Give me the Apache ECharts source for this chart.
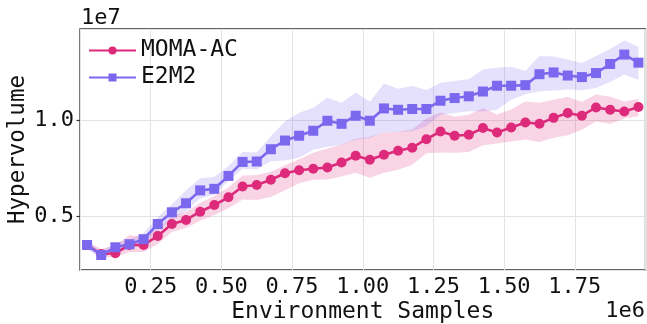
<!DOCTYPE html>
<html>
<head>
<meta charset="utf-8">
<script src="https://cdn.jsdelivr.net/npm/echarts@6/dist/echarts.min.js"></script>
<style>
  html, body { margin: 0; padding: 0; background: #fff; }
  #chart { width: 647px; height: 324px; }
</style>
</head>
<body>
<div id="chart"></div>
<script>
// x in units of 1e6 samples, y in units of 1e7 hypervolume
const samples = [0.025, 0.075, 0.125, 0.175, 0.225, 0.275, 0.325, 0.375, 0.425, 0.475,
  0.525, 0.575, 0.625, 0.675, 0.725, 0.775, 0.825, 0.875, 0.925, 0.975,
  1.025, 1.075, 1.125, 1.175, 1.225, 1.275, 1.325, 1.375, 1.425, 1.475,
  1.525, 1.575, 1.625, 1.675, 1.725, 1.775, 1.825, 1.875, 1.925, 1.975];

const momaMean = [0.349, 0.302, 0.306, 0.349, 0.349, 0.396, 0.458, 0.479, 0.522, 0.557,
  0.597, 0.653, 0.661, 0.688, 0.722, 0.738, 0.745, 0.752, 0.778, 0.813,
  0.792, 0.818, 0.839, 0.855, 0.899, 0.939, 0.917, 0.922, 0.957, 0.934,
  0.960, 0.986, 0.979, 1.010, 1.035, 1.021, 1.064, 1.052, 1.043, 1.066];
const momaHigh = [0.365, 0.328, 0.348, 0.401, 0.391, 0.432, 0.500, 0.521, 0.569, 0.604,
  0.649, 0.710, 0.713, 0.730, 0.764, 0.795, 0.828, 0.851, 0.872, 0.902,
  0.912, 0.933, 0.938, 0.949, 1.008, 1.038, 1.016, 1.026, 1.061, 1.028,
  1.054, 1.095, 1.088, 1.104, 1.118, 1.094, 1.132, 1.120, 1.095, 1.108];
const momaLow = [0.333, 0.286, 0.285, 0.313, 0.313, 0.354, 0.416, 0.437, 0.475, 0.505,
  0.540, 0.585, 0.583, 0.599, 0.633, 0.670, 0.688, 0.690, 0.705, 0.724,
  0.698, 0.724, 0.740, 0.766, 0.826, 0.830, 0.828, 0.833, 0.868, 0.877,
  0.887, 0.897, 0.885, 0.906, 0.920, 0.948, 0.991, 0.979, 1.007, 1.019];

const e2m2Mean = [0.349, 0.297, 0.337, 0.353, 0.379, 0.458, 0.519, 0.566, 0.633, 0.641,
  0.708, 0.781, 0.783, 0.847, 0.892, 0.917, 0.943, 0.995, 0.979, 1.021,
  0.995, 1.059, 1.052, 1.056, 1.056, 1.099, 1.113, 1.122, 1.147, 1.177,
  1.177, 1.180, 1.237, 1.246, 1.230, 1.222, 1.243, 1.290, 1.339, 1.297];
const e2m2High = [0.370, 0.318, 0.358, 0.379, 0.410, 0.494, 0.561, 0.634, 0.696, 0.703,
  0.760, 0.833, 0.830, 0.915, 0.991, 1.037, 1.063, 1.115, 1.088, 1.141,
  1.094, 1.189, 1.161, 1.176, 1.155, 1.193, 1.202, 1.211, 1.262, 1.271,
  1.276, 1.253, 1.331, 1.329, 1.313, 1.295, 1.332, 1.368, 1.412, 1.380];
const e2m2Low = [0.328, 0.276, 0.316, 0.327, 0.353, 0.427, 0.483, 0.524, 0.591, 0.610,
  0.682, 0.745, 0.741, 0.785, 0.788, 0.802, 0.844, 0.860, 0.870, 0.896,
  0.906, 0.934, 0.937, 0.941, 0.967, 1.026, 1.035, 1.044, 1.043, 1.052,
  1.104, 1.133, 1.148, 1.152, 1.157, 1.154, 1.165, 1.196, 1.235, 1.208];

const FONT = 'DejaVu Sans Mono';
const TEXT = '#111';
const PINK = '#dd2a7b';
const PURPLE = '#7b68ee';

function band(name, low, high, fill) {
  return {
    name: name,
    type: 'custom',
    silent: true,
    z: 1,
    clip: true,
    data: samples.map((x, i) => [x, low[i], high[i]]),
    encode: { x: 0, y: [1, 2] },
    renderItem: function (params, api) {
      if (params.dataIndex !== 0) return null;
      const top = [], bottom = [];
      for (let i = 0; i < samples.length; i++) {
        top.push(api.coord([samples[i], high[i]]));
        bottom.push(api.coord([samples[i], low[i]]));
      }
      return {
        type: 'polygon',
        shape: { points: top.concat(bottom.reverse()) },
        style: { fill: fill }
      };
    }
  };
}

function line(name, mean, color, symbol) {
  return {
    name: name,
    type: 'line',
    z: 3,
    data: samples.map((x, i) => [x, mean[i]]),
    symbol: symbol,
    symbolSize: 10,
    showAllSymbol: true,
    lineStyle: { color: color, width: 2.6 },
    itemStyle: { color: color }
  };
}

const chart = echarts.init(document.getElementById('chart'));
chart.setOption({
  animation: false,
  grid: {
    left: 80, top: 29, right: 1.5, bottom: 54,
    outerBoundsMode: 'none',
    containLabel: false,
    show: true, borderColor: '#333', borderWidth: 1.3
  },
  legend: {
    data: ['MOMA-AC', 'E2M2'],
    orient: 'vertical',
    left: 83, top: 34,
    itemWidth: 47, itemHeight: 10, itemGap: 4,
    textStyle: { fontFamily: FONT, fontSize: 23, color: TEXT, lineHeight: 23 }
  },
  xAxis: {
    type: 'value',
    min: 0, max: 2, interval: 0.25,
    name: 'Environment Samples',
    nameLocation: 'middle', nameGap: 31,
    nameMoveOverlap: false,
    nameTextStyle: { fontFamily: FONT, fontSize: 23, color: TEXT },
    axisLine: { show: false },
    axisTick: { show: false },
    splitLine: { show: true, lineStyle: { color: '#e3e3e3', width: 1 } },
    axisLabel: {
      fontFamily: FONT, fontSize: 22, color: TEXT, margin: 6,
      showMinLabel: false, showMaxLabel: false,
      formatter: v => v.toFixed(2)
    }
  },
  yAxis: {
    type: 'value',
    min: 0.219, max: 1.472, splitNumber: 3,
    name: 'Hypervolume',
    nameLocation: 'middle', nameGap: 50,
    nameMoveOverlap: false,
    nameTextStyle: { fontFamily: FONT, fontSize: 22.5, color: TEXT },
    axisLine: { show: false },
    axisTick: { show: true, length: 3.5, lineStyle: { color: '#333', width: 1.2 } },
    splitLine: { show: true, lineStyle: { color: '#e3e3e3', width: 1 } },
    axisLabel: {
      fontFamily: FONT, fontSize: 22, color: TEXT, margin: 6,
      showMinLabel: false, showMaxLabel: false,
      formatter: v => v.toFixed(1)
    }
  },
  graphic: [
    { type: 'text', left: 81, top: 7,
      style: { text: '1e7', font: '22px "DejaVu Sans Mono"', fill: TEXT } },
    { type: 'text', right: 2, top: 300,
      style: { text: '1e6', font: '22px "DejaVu Sans Mono"', fill: TEXT } }
  ],
  series: [
    band('MOMA-AC band', momaLow, momaHigh, 'rgba(221,42,123,0.2)'),
    band('E2M2 band', e2m2Low, e2m2High, 'rgba(123,104,238,0.2)'),
    line('MOMA-AC', momaMean, PINK, 'circle'),
    line('E2M2', e2m2Mean, PURPLE, 'rect')
  ]
});
</script>
</body>
</html>
